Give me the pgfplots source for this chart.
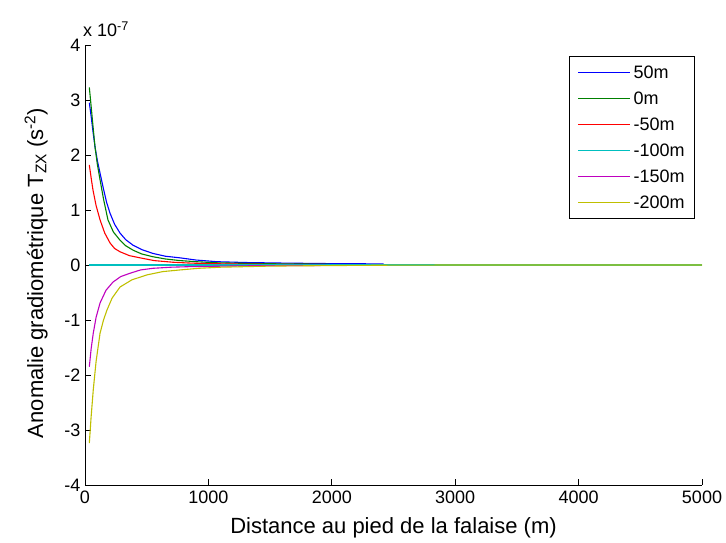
\documentclass[border=0pt]{standalone}
\usepackage{fontspec}
\setmainfont{Liberation Sans}
\usepackage{pgfplots}
\pgfplotsset{compat=1.18}
\definecolor{mblue}{rgb}{0,0,1}
\definecolor{mgreen}{rgb}{0,0.5,0}
\definecolor{mred}{rgb}{1,0,0}
\definecolor{mcyan}{rgb}{0,0.75,0.75}
\definecolor{mmag}{rgb}{0.75,0,0.75}
\definecolor{myel}{rgb}{0.75,0.75,0}
\begin{document}
\begin{tikzpicture}
\begin{axis}[
  scale only axis, width=617pt, height=440pt,
  xmin=0, xmax=5000, ymin=-4, ymax=4,
  axis x line*=bottom, axis y line*=left,
  axis line style={line width=0.9pt},
  xtick={0,1000,2000,3000,4000,5000},
  ytick={-4,-3,-2,-1,0,1,2,3,4},
  tick align=inside, major tick length=6pt,
  tick style={line width=0.9pt, black},
  /pgf/number format/assume math mode=true,
  /pgf/number format/set thousands separator={},
  ticklabel style={font=\fontsize{18}{20}\selectfont},
  xticklabel style={yshift=-2pt},
  yticklabel style={xshift=-1pt},
  xlabel={Distance au pied de la falaise (m)},
  ylabel={Anomalie gradiométrique T\textsubscript{ZX} (s\textsuperscript{-2})},
  xlabel style={font=\fontsize{22}{24}\selectfont, at={(rel axis cs:0.5,0)}, anchor=base, yshift=-49pt},
  ylabel style={font=\fontsize{22}{24}\selectfont, at={(rel axis cs:0,0.5)}, anchor=base, yshift=42pt, xshift=-8pt},
  legend style={at={(rel axis cs:0.9887,0.975)}, anchor=north east, draw=black, line width=0.9pt,
    font=\fontsize{18}{20}\selectfont, inner xsep=8pt, inner ysep=7pt,
    row sep=8pt},
  legend cell align=left,
  legend image code/.code={\draw[#1, line width=1.3pt] (0pt,0pt) -- (52pt,0pt); \path (53pt,0pt);},
  every axis plot/.append style={line width=1.1pt},
]
\addplot[mblue] coordinates {(35,2.95)(50,2.7)(65,2.42)(81,2.15)(100,1.9)(122,1.67)(150,1.38)(175,1.14)(203,0.94)(240,0.74)(284,0.58)(330,0.46)(389,0.36)(460,0.28)(551,0.21)(650,0.16)(770,0.13)(900,0.09)(1070,0.06)(1300,0.045)(1600,0.035)(2000,0.025)(2420,0.02)};
\addlegendentry{50m}
\addplot[mgreen] coordinates {(35,3.23)(50,2.88)(65,2.52)(81,2.15)(100,1.83)(122,1.55)(150,1.2)(186,0.82)(230,0.6)(284,0.45)(330,0.35)(389,0.27)(460,0.2)(551,0.15)(650,0.11)(770,0.08)(900,0.06)(1070,0.04)(1300,0.03)(1600,0.02)(1980,0.015)};
\addlegendentry{0m}
\addplot[mred] coordinates {(35,1.82)(50,1.58)(65,1.36)(90,1.08)(122,0.82)(160,0.58)(203,0.40)(240,0.3)(284,0.24)(360,0.17)(446,0.13)(560,0.08)(713,0.05)(850,0.035)(1000,0.025)(1300,0.015)(1600,0.01)(1960,0.008)};
\addlegendentry{-50m}
\addplot[mcyan] coordinates {(35,0)(5000,0)};
\addlegendentry{-100m}
\addplot[mmag] coordinates {(35,-1.85)(50,-1.52)(67,-1.24)(90,-0.95)(122,-0.69)(170,-0.46)(227,-0.31)(290,-0.21)(365,-0.15)(450,-0.09)(551,-0.06)(700,-0.04)(850,-0.03)(1000,-0.025)(1300,-0.015)(1600,-0.01)(1960,-0.008)};
\addlegendentry{-150m}
\addplot[myel] coordinates {(35,-3.24)(50,-2.75)(67,-2.27)(90,-1.75)(122,-1.24)(150,-1.0)(178,-0.82)(220,-0.6)(284,-0.40)(380,-0.27)(502,-0.18)(630,-0.12)(770,-0.09)(920,-0.06)(1100,-0.04)(1500,-0.02)(2000,-0.01)(2500,-0.003)(3000,0)(4000,0)(5000,0)};
\addlegendentry{-200m}
\end{axis}
\node[anchor=base west, inner sep=0pt, font=\fontsize{18}{20}\selectfont] at ([xshift=-2pt,yshift=8pt]current axis.north west) {x 10\textsuperscript{-7}};
\path[use as bounding box] ([xshift=-85pt,yshift=-58pt]current axis.south west) rectangle ([xshift=24pt,yshift=45pt]current axis.north east);
\end{tikzpicture}
\end{document}
